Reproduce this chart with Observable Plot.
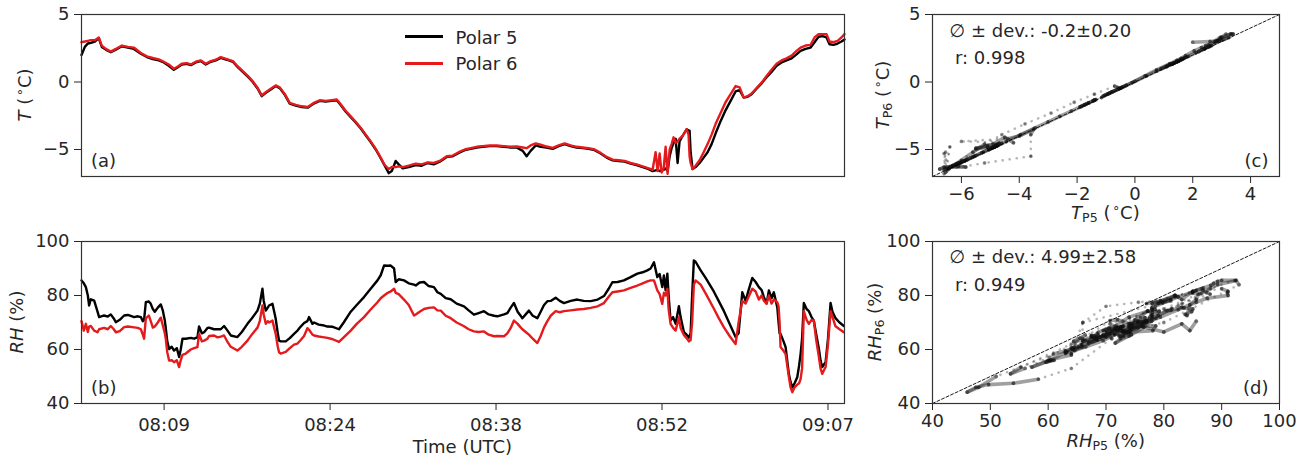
<!DOCTYPE html>
<html>
<head>
<meta charset="utf-8">
<script src="https://cdn.jsdelivr.net/npm/d3@7"></script>
<script src="https://cdn.jsdelivr.net/npm/@observablehq/plot@0.6"></script>
<style>
  html, body { margin: 0; padding: 0; background: #fff; }
  #wrap { position: relative; width: 1307px; height: 460px; overflow: hidden; font-family: "DejaVu Sans"; color: #262626; background: #fff; }
  .panel { position: absolute; }
  .lbl { position: absolute; font-size: 18px; line-height: 18px; white-space: nowrap; font-family: "DejaVu Sans"; color: #262626; }
  .rot { transform: translate(-50%, -50%) rotate(-90deg); }
  .hor { transform: translateX(-50%); }
  .lbl sub, .lbl sup { font-size: 70%; line-height: 0; }
  .lbl sub { vertical-align: -0.25em; }
  .lbl sup { vertical-align: 0.55em; }
  .swatch { position: absolute; width: 38px; height: 2.6px; }
</style>
</head>
<body>
<div id="wrap">
  <div class="panel" id="pa" style="left:0px;top:0px"></div>
  <div class="panel" id="pb" style="left:0px;top:200px"></div>
  <div class="panel" id="pc" style="left:860px;top:0px"></div>
  <div class="panel" id="pd" style="left:860px;top:200px"></div>
</div>
<script>
// ---------------- data ----------------
const seriesNames = ["Polar 5", "Polar 6"];
const seriesColors = ["#000000", "#e41a1c"];
const flightDay = "2019-04-01";
const timeDomain = ["08:02:30", "09:08:42"];
const timeTicks = ["08:09:40", "08:24:04", "08:38:28", "08:52:52", "09:07:16"];
const tDomain = [-7, 5];
const tTicksY = [-5, 0, 5];
const tTicksX = [-6, -4, -2, 0, 2, 4];
const rhDomain = [40, 100];
const rhTicksY = [40, 60, 80, 100];
const rhTicksX = [40, 50, 60, 70, 80, 90, 100];
const statsT = ["\u2205 \u00b1 dev.: -0.2\u00b10.20", "r: 0.998"];
const statsRH = ["\u2205 \u00b1 dev.: 4.99\u00b12.58", "r: 0.949"];
const panelTags = ["(a)", "(b)", "(c)", "(d)"];

// minutes after 08:00 UTC for the temperature samples
const minutesT = [2.50,2.79,3.05,3.31,3.66,4.00,4.26,4.61,5.04,5.48,
  6.00,6.52,7.04,7.65,8.17,8.69,9.21,9.64,10.07,10.51,
  10.86,11.20,11.64,11.98,12.42,12.85,13.28,13.72,14.15,14.58,
  15.11,15.63,16.06,16.49,16.93,17.36,17.79,18.14,18.49,18.92,
  19.35,19.70,20.14,20.57,21.09,21.61,22.13,22.65,23.17,23.69,
  24.21,24.65,24.99,25.43,25.86,26.29,26.73,27.16,27.59,28.03,
  28.46,28.81,29.16,29.42,29.76,30.02,30.37,30.89,31.50,32.02,
  32.54,33.06,33.58,34.19,34.71,35.23,35.75,36.27,36.79,37.31,
  37.92,38.52,39.13,39.74,40.26,40.78,41.12,41.47,41.91,42.34,
  42.86,43.38,43.90,44.42,44.94,45.46,45.98,46.50,47.02,47.54,
  48.06,48.58,49.10,49.62,50.14,50.66,51.19,51.71,52.05,52.31,
  52.49,52.66,52.83,53.01,53.18,53.35,53.53,53.70,53.87,54.05,
  54.22,54.39,54.65,55.00,55.17,55.26,55.35,55.52,55.78,56.13,
  56.48,56.82,57.17,57.52,57.95,58.38,58.82,59.25,59.60,59.95,
  60.29,60.64,61.07,61.51,61.94,62.37,62.81,63.24,63.67,64.11,
  64.54,64.89,65.32,65.76,66.10,66.45,66.80,67.14,67.40,67.75,
  68.10,68.44,68.70];
const T5 = [2.0,2.6,2.85,2.9,3.0,3.25,2.6,2.4,2.2,2.4,
  2.65,2.55,2.45,2.1,1.85,1.7,1.6,1.45,1.2,0.9,
  1.1,1.3,1.35,1.25,1.45,1.55,1.3,1.5,1.6,1.78,
  1.65,1.5,1.1,0.75,0.4,0.0,-0.5,-1.05,-0.8,-0.55,
  -0.3,-0.45,-0.95,-1.6,-1.75,-1.85,-1.9,-1.6,-1.4,-1.45,
  -1.4,-1.35,-1.7,-2.2,-2.6,-3.0,-3.45,-3.95,-4.45,-5.0,
  -5.65,-6.2,-6.75,-6.6,-5.85,-6.1,-6.4,-6.3,-6.15,-6.2,
  -6.0,-6.1,-5.9,-5.55,-5.5,-5.25,-5.05,-4.95,-4.85,-4.8,
  -4.75,-4.75,-4.8,-4.85,-4.85,-5.1,-5.5,-5.1,-4.7,-4.8,
  -4.85,-4.95,-4.75,-4.6,-4.75,-4.85,-4.9,-4.95,-5.05,-5.3,
  -5.6,-5.8,-5.85,-5.9,-6.05,-6.15,-6.3,-6.45,-6.6,-6.55,
  -6.5,-6.6,-6.55,-6.5,-6.4,-6.6,-5.5,-4.9,-4.5,-4.2,
  -6.0,-4.4,-4.0,-3.5,-3.6,-3.6,-5.2,-6.45,-6.3,-6.0,
  -5.6,-5.2,-4.6,-3.8,-2.9,-2.1,-1.4,-0.7,-0.6,-1.15,
  -1.1,-0.9,-0.5,-0.1,0.35,0.75,1.2,1.45,1.6,1.75,
  2.05,2.3,2.45,2.55,2.95,3.35,3.4,3.3,2.8,2.75,
  2.85,3.0,3.15];
const T6 = [2.95,3.0,3.05,3.1,3.1,3.3,2.7,2.45,2.25,2.45,
  2.7,2.6,2.55,2.15,1.9,1.78,1.68,1.5,1.3,0.98,
  1.15,1.35,1.4,1.3,1.5,1.6,1.35,1.55,1.65,1.85,
  1.7,1.55,1.15,0.8,0.45,0.05,-0.45,-1.0,-0.75,-0.5,
  -0.25,-0.4,-0.9,-1.55,-1.7,-1.8,-1.85,-1.55,-1.35,-1.4,
  -1.35,-1.3,-1.65,-2.15,-2.55,-2.95,-3.4,-3.9,-4.4,-4.95,
  -5.6,-6.15,-6.45,-6.3,-6.3,-6.25,-6.3,-6.2,-6.05,-6.1,
  -5.95,-6.0,-5.85,-5.5,-5.45,-5.2,-5.0,-4.9,-4.8,-4.75,
  -4.7,-4.7,-4.75,-4.8,-4.78,-4.85,-4.9,-4.7,-4.55,-4.65,
  -4.78,-4.88,-4.7,-4.55,-4.7,-4.8,-4.85,-4.9,-5.0,-5.25,
  -5.55,-5.75,-5.8,-5.85,-6.0,-6.1,-6.25,-6.4,-6.5,-5.2,
  -6.6,-5.3,-6.7,-6.4,-4.8,-6.8,-5.0,-4.6,-4.1,-4.5,
  -4.4,-4.2,-4.0,-3.5,-3.9,-5.5,-6.0,-6.45,-6.2,-5.8,
  -5.2,-4.6,-3.9,-3.1,-2.3,-1.5,-0.9,-0.3,-0.4,-1.15,
  -1.05,-0.85,-0.45,-0.05,0.45,0.9,1.35,1.6,1.75,1.95,
  2.3,2.55,2.7,2.75,3.3,3.55,3.55,3.55,3.0,2.95,
  3.05,3.3,3.55];

// minutes after 08:00 UTC for the humidity samples
const minutesRH = [2.50,2.70,2.88,3.05,3.16,3.31,3.60,3.89,4.03,4.46,
  4.78,5.04,5.30,5.48,5.82,6.20,6.52,7.07,7.39,7.65,
  7.82,7.93,8.08,8.34,8.51,8.69,8.86,9.12,9.38,9.55,
  9.73,9.81,9.94,10.10,10.33,10.53,10.77,10.97,11.11,11.26,
  11.55,11.98,12.27,12.56,12.70,12.94,13.14,13.43,13.57,14.00,
  14.30,14.58,14.87,15.17,15.45,16.03,16.41,16.90,17.27,17.77,
  17.97,18.20,18.31,18.49,18.66,18.77,19.07,19.22,19.35,19.53,
  19.64,19.79,20.22,20.57,20.94,21.24,21.52,21.81,22.10,22.24,
  22.54,22.68,23.08,23.43,23.84,24.30,24.84,25.25,25.86,26.38,
  27.01,27.59,28.18,28.46,28.75,29.07,29.33,29.62,29.76,30.02,
  30.48,30.89,31.35,31.50,31.84,32.22,32.62,33.08,33.38,33.67,
  34.10,34.53,35.05,35.69,36.09,36.55,36.96,37.42,37.83,38.29,
  38.58,39.16,39.45,39.74,40.02,40.34,40.60,40.75,41.04,41.32,
  41.65,42.05,42.34,42.63,42.92,43.21,43.64,43.99,44.36,44.94,
  45.52,46.07,46.68,47.28,47.83,48.24,48.56,49.02,49.56,50.14,
  50.73,51.19,51.59,51.88,52.17,52.46,52.66,52.89,53.03,53.18,
  53.33,53.44,53.61,53.83,54.05,54.33,54.48,54.77,55.00,55.20,
  55.35,55.48,55.63,55.78,56.22,56.65,57.37,57.78,58.24,58.73,
  59.25,59.51,59.83,60.12,60.38,60.70,60.99,61.27,61.51,61.71,
  61.94,62.14,62.37,62.57,62.87,62.98,63.07,63.15,63.41,63.59,
  63.87,64.02,64.17,64.37,64.60,64.76,64.89,65.02,65.17,65.41,
  65.61,65.84,66.04,66.23,66.48,66.62,66.77,67.06,67.27,67.49,
  67.66,67.92,68.27,68.64];
const RH5 = [85.6,84.5,83.1,80,76.3,78.6,78.1,74,72,72.6,
  72.2,73,71.5,70.1,71,72.6,72.8,72,72.3,72,
  70.5,71,77.5,77.8,76.9,75,74,75.5,76.7,74.5,
  70.7,68,63,60.2,61,59.6,60.5,57.2,60,64,
  64,64.3,64,64.5,68.5,66,66.4,68,68.1,67.5,
  67.5,67.5,68.7,67,65.2,64.6,66.5,69.5,71.5,74.4,
  77,82.5,78,74.4,75.5,76.3,76.9,74,71.4,66,
  63.3,63,63,64.2,65.8,67,68.5,69.8,70.5,72,
  69.5,70,69.2,69,68.5,68.4,67.5,70,74,76.5,
  79.4,82.5,85.6,87.5,91.1,91,91.1,90,85,86,
  85.6,84.5,84,83.7,84.8,85,83.5,83.1,81.2,80.6,
  79,78.6,77,76,74.5,72.9,73.5,74.2,73,72.5,
  72.3,73,73.5,75.5,77.2,74,72.5,71.6,73,74.4,
  72.5,71.6,74,76.5,77.9,78,79.2,78,77.2,78,
  78.5,78,77.9,78.5,79.8,82.5,84.9,85,85.6,86.8,
  88.1,88.6,89.3,90,92.3,86.8,88,83.1,87.4,81.9,
  88.1,80,70.7,72,69.5,76,72,66.4,65.5,64.4,
  66,80,93,92.5,89.3,86.5,81.4,78,74.2,69.5,
  64.6,66,81.2,78,82,86.5,85,83.1,82,79.4,
  77,81.9,79,81.2,75.6,70,66,65.8,63,60.9,
  51,48,46,47.5,49.7,54,58.3,64,77.2,75,
  74.2,72,70.7,66,60.2,56,53.5,55.3,64,77.2,
  74,71.6,70,68.7];
const RH6 = [70.5,67,69.5,66.5,68.5,68.7,67,66.4,67.5,68,
  67.5,68.7,67.5,66.4,66.8,68.3,68.5,68.2,68,67.5,
  65.5,64,71.5,72.6,70.5,68.1,68.5,70,71.8,69,
  66,64,59,55.9,56,55.3,56,53.5,56,58,
  58.5,60,60.5,60.9,65.8,63,63.3,64,65,65.2,
  64.5,64.8,65.2,62.8,61,59.6,61,63.3,65.5,68.1,
  70.5,76.3,73,69.5,70.5,70,70.7,68,65.8,61,
  59,58.5,59.1,60.5,61.8,62.2,63.5,65,67.9,67.3,
  65.5,65.2,64.8,64.6,64.3,63.8,62.8,64.5,67,69.5,
  72,74.8,77.5,79,80,81,81.5,82.5,81,80.5,
  78.5,76.5,72.6,73,74,75,75.4,75.6,74.5,74.4,
  72.5,71.6,70,68.6,67.5,66.7,66.5,66.7,65.5,64.9,
  65,64.9,66,68,70.7,69.5,68.2,67.5,66.5,65.5,
  64,62.4,65,68.2,70.5,72.5,74.2,73.8,74.2,74.5,
  74.8,75,75.4,76,77.2,79.5,81.2,81.5,81.9,82.8,
  83.7,84.5,85.2,85.6,85.6,81.9,80.5,76.9,81,80,
  82.5,75,69.5,68,67,72,68,65.4,64.2,63,
  63.5,70,84,85.6,84,80.8,75.1,71.7,68.2,65,
  62,70,78,77,79.5,82.5,81.5,78.5,80,78,
  77,80,77,78.5,77.5,76,70,60.9,59.5,58.3,
  50,46,44.2,46,47,47.5,49,53,74.2,71,
  69.5,71,70.7,64,57.2,53,51,53.5,62,74.2,
  72,68.6,67.5,66.4];

// ---------------- helpers ----------------
const parseClock = s => new Date(`${flightDay}T${s}Z`);
const dayStart = parseClock("08:00:00").getTime();
const fromMinutes = m => new Date(dayStart + m * 60000);

const nT = Math.min(minutesT.length, T5.length, T6.length);
const nRH = Math.min(minutesRH.length, RH5.length, RH6.length);
const tsT = d3.range(nT).map(i => ({date: fromMinutes(minutesT[i]), p5: T5[i], p6: T6[i]}));
const tsRH = d3.range(nRH).map(i => ({date: fromMinutes(minutesRH[i]), p5: RH5[i], p6: RH6[i]}));
// consecutive sample pairs of the scatter (trajectory between samples)
const segsOf = rows => rows.slice(1).map((r, i) => ({
  x1: rows[i].p5, y1: rows[i].p6, x2: r.p5, y2: r.p6,
  len: Math.hypot(r.p5 - rows[i].p5, r.p6 - rows[i].p6)
}));

const INK = "#262626";
const baseStyle = {fontFamily: "DejaVu Sans", fontSize: "18px", color: INK, background: "transparent", overflow: "visible"};
const frameMark = () => Plot.frame({stroke: "#333", strokeWidth: 1.2});
const tag = (txt, right) => Plot.text([txt], {
  text: d => d, frameAnchor: right ? "bottom-right" : "bottom-left",
  textAnchor: right ? "end" : "start", lineAnchor: "bottom",
  dx: right ? -11 : 9.5, dy: -10, fill: INK
});
const stats = (lines, dy0) => [
  Plot.text([lines[0]], {text: d => d, frameAnchor: "top-left", textAnchor: "start", lineAnchor: "bottom", dx: 17, dy: dy0, fill: INK}),
  Plot.text([lines[1]], {text: d => d, frameAnchor: "top-left", textAnchor: "start", lineAnchor: "bottom", dx: 22.5, dy: 49, fill: INK})
];
const timeX = {type: "utc", domain: timeDomain.map(parseClock)};
const LW = 2.4;

// ---------------- panel (a) ----------------
document.getElementById("pa").append(Plot.plot({
  style: baseStyle, width: 860, height: 200,
  marginLeft: 81, marginRight: 16, marginTop: 14, marginBottom: 24,
  x: {...timeX, axis: null},
  y: {domain: tDomain, ticks: tTicksY, tickSize: 7, tickPadding: 5, label: null},
  marks: [
    Plot.line(tsT, {x: "date", y: "p5", stroke: seriesColors[0], strokeWidth: LW}),
    Plot.line(tsT, {x: "date", y: "p6", stroke: seriesColors[1], strokeWidth: LW}),
    tag(panelTags[0], false),
    frameMark()
  ]
}));

// ---------------- panel (b) ----------------
document.getElementById("pb").append(Plot.plot({
  style: baseStyle, width: 860, height: 260,
  marginLeft: 81, marginRight: 16, marginTop: 41, marginBottom: 57,
  x: {...timeX, ticks: timeTicks.map(parseClock), tickFormat: d3.utcFormat("%H:%M"), tickSize: 7, tickPadding: 7.5, label: null},
  y: {domain: rhDomain, ticks: rhTicksY, tickSize: 7, tickPadding: 5, label: null},
  marks: [
    Plot.line(tsRH, {x: "date", y: "p5", stroke: seriesColors[0], strokeWidth: LW}),
    Plot.line(tsRH, {x: "date", y: "p6", stroke: seriesColors[1], strokeWidth: LW}),
    tag(panelTags[1], false),
    frameMark()
  ]
}));

// ---------------- scatter panels ----------------
function scatterMarks(rows, domain, maxStep, lines, dy0, tg) {
  const segs = segsOf(rows);
  return [
    // slow changes: dense dark trail
    Plot.link(segs.filter(s => s.len <= maxStep), {x1: "x1", y1: "y1", x2: "x2", y2: "y2",
      stroke: "#111", strokeOpacity: 0.4, strokeWidth: 3.6, strokeLinecap: "round"}),
    // fast changes: sparse samples, drawn as spaced dots
    Plot.link(segs.filter(s => s.len > maxStep), {x1: "x1", y1: "y1", x2: "x2", y2: "y2",
      stroke: "#111", strokeOpacity: 0.3, strokeWidth: 2.6, strokeLinecap: "round", strokeDasharray: "0.1,7"}),
    Plot.dot(rows, {x: "p5", y: "p6", r: 1.9, fill: "#111", fillOpacity: 0.4, stroke: "none"}),
    Plot.line(domain.map(v => ({v})), {x: "v", y: "v", stroke: "#000", strokeWidth: 0.9, strokeDasharray: "3,2"}),
    ...stats(lines, dy0),
    tag(tg, true),
    frameMark()
  ];
}

document.getElementById("pc").append(Plot.plot({
  style: baseStyle, width: 447, height: 220,
  marginLeft: 72, marginRight: 28, marginTop: 14, marginBottom: 44,
  x: {domain: tDomain, ticks: tTicksX, tickSize: 7, tickPadding: 4, label: null},
  y: {domain: tDomain, ticks: tTicksY, tickSize: 7, tickPadding: 5, label: null},
  marks: scatterMarks(tsT, tDomain, 0.9, statsT, 22.4, panelTags[2])
}));

document.getElementById("pd").append(Plot.plot({
  style: baseStyle, width: 447, height: 260,
  marginLeft: 72, marginRight: 28, marginTop: 41, marginBottom: 57,
  x: {domain: rhDomain, ticks: rhTicksX, tickSize: 7, tickPadding: 4, label: null},
  y: {domain: rhDomain, ticks: rhTicksY, tickSize: 7, tickPadding: 5, label: null},
  marks: scatterMarks(tsRH, rhDomain, 5, statsRH, 21.5, panelTags[3])
}));

// ---------------- labels & legend (HTML text) ----------------
const wrap = document.getElementById("wrap");
function label(html, cls, left, top) {
  const d = document.createElement("div");
  d.className = "lbl " + cls;
  d.style.left = left + "px";
  d.style.top = top + "px";
  d.innerHTML = html;
  wrap.append(d);
}
const ring = "(&#8202;<sup>\u2218</sup>C)";
label(`<i>T</i> ${ring}`, "rot", 25.2, 95.2);
label(`<i>RH</i> (%)`, "rot", 16.9, 322);
label(`<i>T</i><sub>P6</sub> ${ring}`, "rot", 883.3, 95.2);
label(`<i>RH</i><sub>P6</sub> (%)`, "rot", 875.2, 322);
label(`Time (UTC)`, "hor", 462.4, 437.9);
label(`<i>T</i><sub>P5</sub> ${ring}`, "hor", 1105.4, 204);
label(`<i>RH</i><sub>P5</sub> (%)`, "hor", 1105.7, 431.5);

seriesNames.forEach((name, i) => {
  const cy = 36.7 + i * 26.6;
  const sw = document.createElement("div");
  sw.className = "swatch";
  sw.style.left = "405px";
  sw.style.top = (cy - 1.3) + "px";
  sw.style.background = seriesColors[i];
  wrap.append(sw);
  label(name, "", 455.5, cy - 7.9);
});
</script>
</body>
</html>
